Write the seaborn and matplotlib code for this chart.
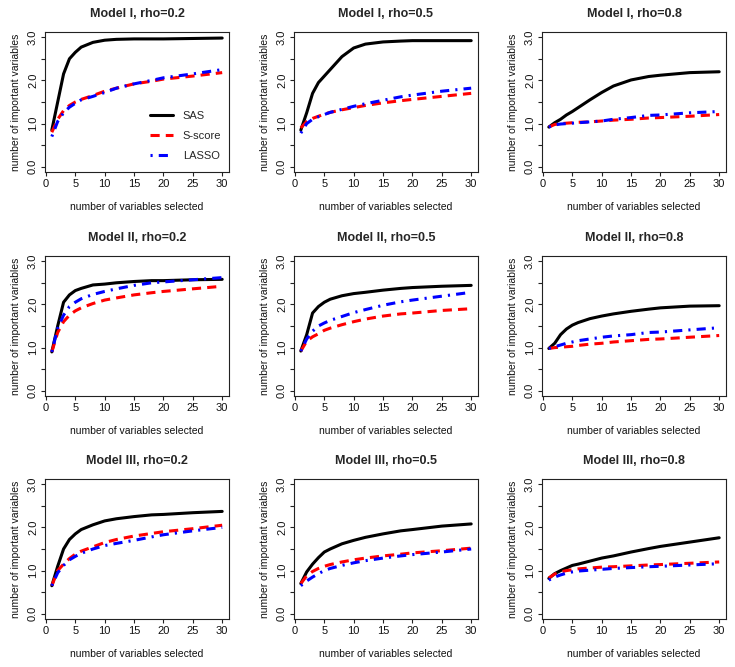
import numpy as np
import pandas as pd
import seaborn as sns
import matplotlib.pyplot as plt

# number of variables selected
x_sel = [1, 2, 3, 4, 5, 6, 8, 10, 12, 15, 18, 20, 25, 30]
methods = ['SAS', 'S-score', 'LASSO']

titles = ['Model I, rho=0.2', 'Model I, rho=0.5', 'Model I, rho=0.8',
          'Model II, rho=0.2', 'Model II, rho=0.5', 'Model II, rho=0.8',
          'Model III, rho=0.2', 'Model III, rho=0.5', 'Model III, rho=0.8']

# Model I
sas_1_2 = [0.85, 1.5, 2.15, 2.5, 2.65, 2.77, 2.88, 2.93, 2.95, 2.96, 2.96, 2.96, 2.97, 2.98]
ss_1_2 = [0.8, 1.1, 1.3, 1.42, 1.5, 1.56, 1.65, 1.75, 1.82, 1.92, 1.98, 2.03, 2.1, 2.18]
la_1_2 = [0.7, 1.05, 1.25, 1.38, 1.47, 1.55, 1.63, 1.72, 1.82, 1.92, 2.0, 2.06, 2.15, 2.25]

sas_1_5 = [0.85, 1.25, 1.7, 1.95, 2.1, 2.25, 2.55, 2.75, 2.84, 2.89, 2.91, 2.92, 2.92, 2.92]
ss_1_5 = [0.9, 1.05, 1.12, 1.17, 1.22, 1.26, 1.32, 1.37, 1.42, 1.48, 1.53, 1.56, 1.63, 1.7]
la_1_5 = [0.78, 1.0, 1.1, 1.16, 1.21, 1.26, 1.33, 1.4, 1.46, 1.54, 1.62, 1.66, 1.75, 1.82]

sas_1_8 = [0.92, 1.02, 1.1, 1.2, 1.28, 1.37, 1.55, 1.72, 1.87, 2.01, 2.09, 2.12, 2.18, 2.2]
ss_1_8 = [0.92, 0.98, 1.0, 1.01, 1.02, 1.03, 1.04, 1.06, 1.08, 1.1, 1.13, 1.14, 1.17, 1.21]
la_1_8 = [0.92, 0.97, 0.99, 1.0, 1.01, 1.02, 1.04, 1.06, 1.1, 1.14, 1.19, 1.2, 1.25, 1.28]

# Model II
sas_2_2 = [0.9, 1.5, 2.05, 2.22, 2.32, 2.37, 2.45, 2.47, 2.5, 2.53, 2.55, 2.55, 2.57, 2.58]
ss_2_2 = [0.9, 1.35, 1.6, 1.75, 1.85, 1.92, 2.02, 2.1, 2.15, 2.22, 2.27, 2.3, 2.36, 2.42]
la_2_2 = [0.9, 1.45, 1.75, 1.95, 2.05, 2.13, 2.23, 2.3, 2.36, 2.44, 2.5, 2.52, 2.57, 2.62]

sas_2_5 = [0.92, 1.3, 1.8, 1.95, 2.05, 2.12, 2.2, 2.25, 2.28, 2.33, 2.37, 2.39, 2.42, 2.44]
ss_2_5 = [0.92, 1.15, 1.25, 1.32, 1.4, 1.45, 1.53, 1.6, 1.66, 1.73, 1.78, 1.8, 1.86, 1.9]
la_2_5 = [0.92, 1.2, 1.38, 1.5, 1.57, 1.63, 1.72, 1.81, 1.88, 1.98, 2.06, 2.1, 2.19, 2.28]

sas_2_8 = [0.98, 1.1, 1.3, 1.43, 1.52, 1.58, 1.67, 1.73, 1.78, 1.84, 1.89, 1.92, 1.96, 1.97]
ss_2_8 = [0.98, 1.0, 1.01, 1.02, 1.03, 1.05, 1.08, 1.1, 1.13, 1.16, 1.19, 1.2, 1.24, 1.28]
la_2_8 = [0.98, 1.02, 1.06, 1.1, 1.13, 1.16, 1.2, 1.24, 1.27, 1.3, 1.35, 1.36, 1.41, 1.46]

# Model III
sas_3_2 = [0.65, 1.1, 1.5, 1.72, 1.85, 1.95, 2.06, 2.15, 2.2, 2.25, 2.29, 2.3, 2.34, 2.37]
ss_3_2 = [0.65, 1.0, 1.15, 1.28, 1.38, 1.45, 1.55, 1.65, 1.72, 1.8, 1.86, 1.9, 1.97, 2.05]
la_3_2 = [0.65, 0.95, 1.12, 1.25, 1.33, 1.4, 1.5, 1.58, 1.63, 1.7, 1.78, 1.83, 1.92, 2.0]

sas_3_5 = [0.7, 0.97, 1.15, 1.3, 1.43, 1.5, 1.62, 1.7, 1.77, 1.85, 1.92, 1.95, 2.03, 2.08]
ss_3_5 = [0.7, 0.88, 0.98, 1.05, 1.1, 1.14, 1.2, 1.25, 1.29, 1.34, 1.38, 1.41, 1.46, 1.52]
la_3_5 = [0.65, 0.76, 0.85, 0.93, 1.0, 1.05, 1.12, 1.18, 1.23, 1.29, 1.34, 1.37, 1.43, 1.5]

sas_3_8 = [0.82, 0.93, 1.0, 1.06, 1.12, 1.15, 1.22, 1.29, 1.34, 1.43, 1.51, 1.56, 1.66, 1.76]
ss_3_8 = [0.83, 0.92, 0.97, 1.0, 1.02, 1.04, 1.06, 1.08, 1.09, 1.11, 1.13, 1.14, 1.17, 1.2]
la_3_8 = [0.78, 0.85, 0.9, 0.94, 0.97, 0.99, 1.01, 1.03, 1.05, 1.07, 1.09, 1.1, 1.13, 1.16]

panels = [(sas_1_2, ss_1_2, la_1_2), (sas_1_5, ss_1_5, la_1_5), (sas_1_8, ss_1_8, la_1_8),
          (sas_2_2, ss_2_2, la_2_2), (sas_2_5, ss_2_5, la_2_5), (sas_2_8, ss_2_8, la_2_8),
          (sas_3_2, ss_3_2, la_3_2), (sas_3_5, ss_3_5, la_3_5), (sas_3_8, ss_3_8, la_3_8)]

palette = {'SAS': 'black', 'S-score': '#ff0000', 'LASSO': '#0000ff'}
dashes = {'SAS': '', 'S-score': (3, 2), 'LASSO': (0.7, 2, 3, 2)}

sns.set_style('white')
plt.rcParams['font.family'] = ['Liberation Sans', 'DejaVu Sans']

W, H = 735, 667
fig = plt.figure(figsize=(W / 100, H / 100), dpi=100)

col_left = [45, 294, 542]
row_top = [32, 256, 479]
pw, ph = 184, 140

for i, (title, vals) in enumerate(zip(titles, panels)):
    r, c = divmod(i, 3)
    ax = fig.add_axes([col_left[c] / W, 1 - (row_top[r] + ph) / H, pw / W, ph / H])
    df = pd.DataFrame({
        'k': x_sel * 3,
        'value': vals[0] + vals[1] + vals[2],
        'method': [m for m in methods for _ in x_sel],
    })
    sns.lineplot(data=df, x='k', y='value', hue='method', style='method',
                 palette=palette, dashes=dashes, hue_order=methods,
                 style_order=methods, linewidth=2.2, ax=ax, legend=(i == 0))
    ax.set_xlim(1 - 0.04 * 29, 30 + 0.04 * 29)
    ax.set_ylim(-0.12, 3.12)
    ax.set_xticks([0, 5, 10, 15, 20, 25, 30])
    ax.set_yticks(np.arange(0, 3.01, 0.5))
    ax.set_yticklabels(['0.0', '', '1.0', '', '2.0', '', '3.0'], rotation=90, va='center')
    ax.tick_params(direction='out', length=3, width=0.8, labelsize=8, pad=2,
                   left=True, bottom=True, colors='#222222', labelcolor='#111111')
    for s in ax.spines.values():
        s.set_color('#222222')
        s.set_linewidth(0.8)
    ax.set_title(title, fontsize=9, fontweight='bold', pad=11)
    ax.set_xlabel('number of variables selected', fontsize=7.5, labelpad=9.5, color='#111111')
    ax.set_ylabel('number of important variables', fontsize=7.5, labelpad=5, color='#111111')
    if i == 0:
        ax.legend(loc='lower left', bbox_to_anchor=(0.514, 0.005), frameon=False,
                  fontsize=8, handlelength=2.1, handletextpad=0.9,
                  labelspacing=0.9, title=None)

fig.savefig('out.png', dpi=100)
